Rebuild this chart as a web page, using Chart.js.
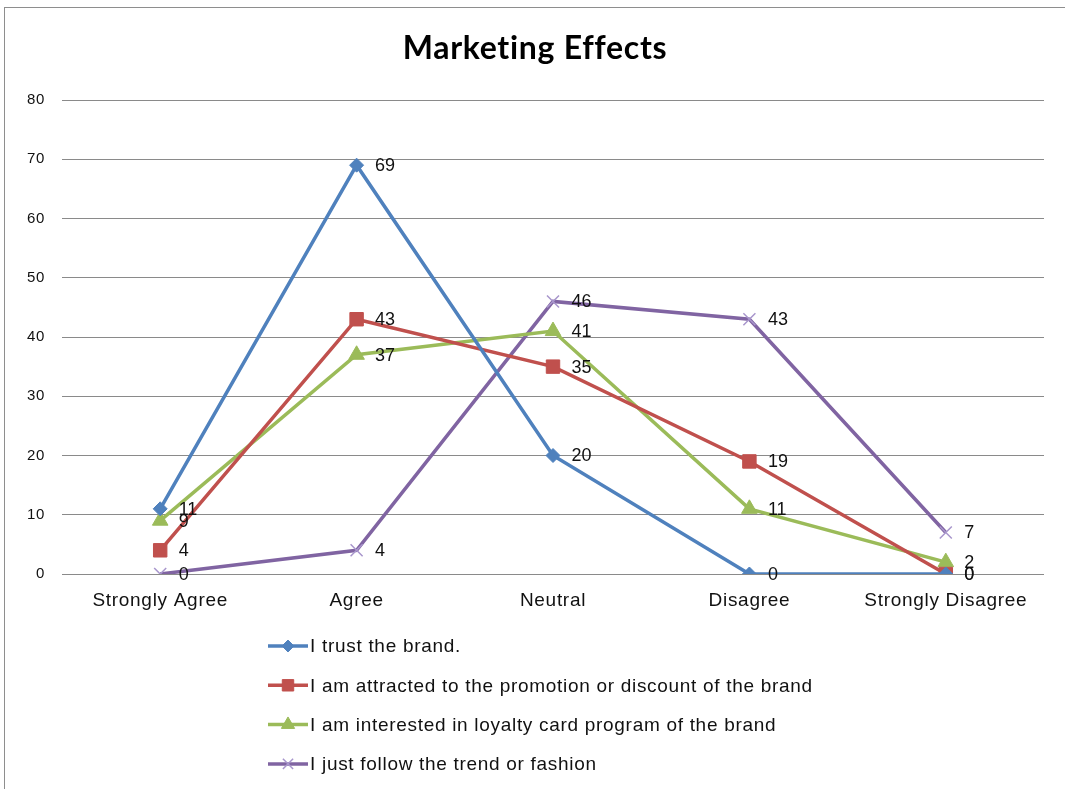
<!DOCTYPE html>
<html>
<head>
<meta charset="utf-8">
<title>Marketing Effects</title>
<script src="https://cdn.jsdelivr.net/npm/chart.js@4/dist/chart.umd.min.js"></script>
<style>
  html, body { margin: 0; padding: 0; background: #fff; }
  #wrap { position: relative; width: 1065px; height: 789px; overflow: hidden; }
  #frame { position: absolute; left: 4px; top: 7px; right: -10px; bottom: -10px;
           border-left: 1px solid #8e8e8e; border-top: 1px solid #8e8e8e; }
  #marketingChart { position: absolute; left: 0; top: 0; }
</style>
</head>
<body>
<div id="wrap">
  <div id="frame"></div>
  <canvas id="marketingChart" width="1065" height="789"></canvas>
</div>
<script>
// survey answers per statement
const categories = ['Strongly Agree', 'Agree', 'Neutral', 'Disagree', 'Strongly Disagree'];
const trustBrand = [11, 69, 20, 0, 0];
const promotion = [4, 43, 35, 19, 0];
const loyaltyCard = [9, 37, 41, 11, 2];
const followTrend = [0, 4, 46, 43, 7];
const seriesNames = [
    'I trust the brand.',
    'I am attracted to the promotion or discount of the brand',
    'I am interested in loyalty card program of the brand',
    'I just follow the trend or fashion'
];
const yTicks = [0, 10, 20, 30, 40, 50, 60, 70, 80];

const TEXT_FONT = "'Liberation Sans', Arial, sans-serif";
const TEXT_COLOR = '#111';

// slightly loose tracking for axis and legend text
const textTracking = {
    id: 'textTracking',
    beforeDraw(chart) {
        chart.ctx.letterSpacing = '0.7px';
    }
};

// value printed to the right of each point
const pointValueLabels = {
    id: 'pointValueLabels',
    afterDatasetsDraw(chart) {
        const ctx = chart.ctx;
        ctx.save();
        ctx.letterSpacing = '0px';
        ctx.font = '18px ' + TEXT_FONT;
        ctx.fillStyle = TEXT_COLOR;
        ctx.textAlign = 'left';
        ctx.textBaseline = 'middle';
        chart.data.datasets.forEach((ds, i) => {
            chart.getDatasetMeta(i).data.forEach((pt, j) => {
                ctx.fillText(String(ds.data[j]), pt.x + 18.5, pt.y + 1);
            });
        });
        ctx.restore();
    }
};

// vertical legend under the x axis
const stackedLegend = {
    id: 'stackedLegend',
    afterDraw(chart) {
        const ctx = chart.ctx;
        const left = 268;
        const firstRow = chart.chartArea.bottom + 72;
        const rowGap = 39.3;
        ctx.save();
        chart.data.datasets.forEach((ds, i) => {
            const y = firstRow + i * rowGap;
            ctx.strokeStyle = ds.borderColor;
            ctx.lineWidth = ds.borderWidth;
            ctx.beginPath();
            ctx.moveTo(left, y);
            ctx.lineTo(left + 40, y);
            ctx.stroke();
            ctx.fillStyle = ds.pointBackgroundColor;
            ctx.strokeStyle = ds.pointBorderColor;
            ctx.lineWidth = ds.pointBorderWidth;
            Chart.helpers.drawPoint(ctx, {
                pointStyle: ds.pointStyle,
                radius: ds.pointRadius * 0.85,
                rotation: 0,
                borderWidth: ds.pointBorderWidth
            }, left + 20, y);
            ctx.letterSpacing = '0.7px';
            ctx.font = '19px ' + TEXT_FONT;
            ctx.fillStyle = TEXT_COLOR;
            ctx.textAlign = 'left';
            ctx.textBaseline = 'middle';
            ctx.fillText(ds.label, left + 42, y + 1);
        });
        ctx.restore();
    }
};

function makeSeries(label, data, color, markerColor, style, radius, borderW) {
    return {
        label: label,
        data: data,
        borderColor: color,
        borderWidth: 3.5,
        backgroundColor: color,
        pointStyle: style,
        pointRadius: radius,
        pointHoverRadius: radius,
        pointBackgroundColor: markerColor,
        pointBorderColor: markerColor,
        pointBorderWidth: borderW,
        tension: 0,
        fill: false
    };
}

const ctx = document.getElementById('marketingChart').getContext('2d');
new Chart(ctx, {
    type: 'line',
    data: {
        labels: categories,
        datasets: [
            makeSeries(seriesNames[0], trustBrand, '#4F81BD', '#4F81BD', 'rectRot', 7, 1),
            makeSeries(seriesNames[1], promotion, '#C0504D', '#C0504D', 'rect', 9.5, 1),
            makeSeries(seriesNames[2], loyaltyCard, '#9BBB59', '#9BBB59', 'triangle', 9, 1),
            makeSeries(seriesNames[3], followTrend, '#8064A2', '#A896CC', 'crossRot', 8.5, 1.5)
        ]
    },
    options: {
        responsive: false,
        animation: false,
        layout: { padding: { top: 10, right: 21, left: 26, bottom: 0 } },
        plugins: {
            legend: { display: false },
            tooltip: { enabled: false },
            title: {
                display: true,
                text: 'Marketing Effects',
                color: '#000',
                font: { family: "Lato, 'Noto Sans', sans-serif", size: 32, weight: 'bold', lineHeight: 1.2 },
                padding: { top: 19, bottom: 32.6 }
            }
        },
        scales: {
            x: {
                offset: true,
                grid: { display: false, drawTicks: false },
                border: { display: false },
                ticks: {
                    color: TEXT_COLOR,
                    font: { family: TEXT_FONT, size: 19 },
                    padding: 15,
                    maxRotation: 0
                },
                afterFit(scale) { scale.height = 215; }
            },
            y: {
                min: 0,
                max: 80,
                afterBuildTicks(scale) { scale.ticks = yTicks.map(v => ({ value: v })); },
                grid: { color: '#8a8a8a', lineWidth: 1, drawTicks: false },
                border: { display: false },
                ticks: {
                    color: TEXT_COLOR,
                    font: { family: TEXT_FONT, size: 15 },
                    padding: 17
                },
                afterFit(scale) { scale.width = 36; }
            }
        }
    },
    plugins: [textTracking, pointValueLabels, stackedLegend]
});
</script>
</body>
</html>
